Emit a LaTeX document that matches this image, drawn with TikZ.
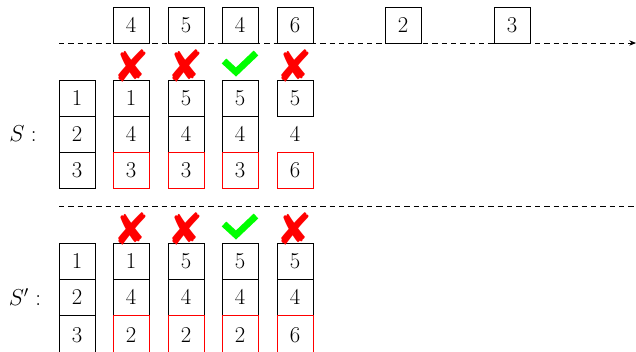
\documentclass[tikz,border=0pt]{standalone}
\usepackage{pifont}
\usetikzlibrary{arrows.meta}
\tikzset{
  cell/.style={draw, line width=0.6pt, minimum width=27pt, minimum height=27pt, inner sep=0pt, font=\fontsize{17}{20}\selectfont},
  redcell/.style={cell, draw=red},
  plain/.style={inner sep=0pt, minimum width=27pt, minimum height=27pt, font=\fontsize{17}{20}\selectfont},
  sep/.style={dash pattern=on 4pt off 3pt, line width=0.6pt},
  nocross/.style={text=red, font=\fontsize{34}{34}\selectfont, inner sep=0pt},
  yescheck/.style={draw=green, line width=5pt, line join=miter},
  lbl/.style={font=\fontsize{17}{20}\selectfont, inner sep=0pt}
}
\begin{document}
\begin{tikzpicture}[x=0.75pt,y=-0.75pt]
\useasboundingbox (0,0) rectangle (636,351);
% top sequence
\node[cell] (t1) at (131,25) {4};
\node[cell] (t2) at (186,25) {5};
\node[cell] (t3) at (240,25) {4};
\node[cell] (t4) at (295,25) {6};
\node[cell] (t5) at (403,25) {2};
\node[cell] (t6) at (512,25) {3};
\coordinate (a0) at (59,43);
\coordinate (a1) at (636,43);
\draw[sep, -{Stealth[length=5pt,width=4pt]}] (a0) -- (a1);
% S
\node[lbl] (S) at (23,134) {$S:$};
\node[cell] (s01) at (77,98) {1};
\node[cell] (s02) at (77,134) {2};
\node[cell] (s03) at (77,170) {3};
\node[cell] (s11) at (131,98) {1};
\node[cell] (s12) at (131,134) {4};
\node[cell] (s21) at (186,98) {5};
\node[cell] (s22) at (186,134) {4};
\node[cell] (s31) at (240,98) {5};
\node[cell] (s32) at (240,134) {4};
\node[cell] (s41) at (295,98) {5};
\node[plain] (s42) at (295,134) {4};
\node[redcell] (s13) at (131,170) {3};
\node[redcell] (s23) at (186,170) {3};
\node[redcell] (s33) at (240,170) {3};
\node[redcell] (s43) at (295,170) {6};
\node[nocross] (x1) at (132,66) {\ding{56}};
\node[nocross] (x2) at (186,66) {\ding{56}};
\node[nocross] (x4) at (295,66) {\ding{56}};
\coordinate (c1) at (224,61);
\coordinate (c2) at (236,72);
\coordinate (c3) at (256,53);
\draw[yescheck] (c1) -- (c2) -- (c3);
% separator
\coordinate (b0) at (59,206);
\coordinate (b1) at (636,206);
\draw[sep] (b0) -- (b1);
% S'
\node[lbl] (Sp) at (25,297) {$S':$};
\node[cell] (p01) at (77,261) {1};
\node[cell] (p02) at (77,297) {2};
\node[cell, minimum height=30pt] (p03) at (77,335) {3};
\node[cell] (p11) at (131,261) {1};
\node[cell] (p12) at (131,297) {4};
\node[cell] (p21) at (186,261) {5};
\node[cell] (p22) at (186,297) {4};
\node[cell] (p31) at (240,261) {5};
\node[cell] (p32) at (240,297) {4};
\node[cell] (p41) at (295,261) {5};
\node[cell] (p42) at (295,297) {4};
\node[redcell, minimum height=30pt] (p13) at (131,335) {2};
\node[redcell, minimum height=30pt] (p23) at (186,335) {2};
\node[redcell, minimum height=30pt] (p33) at (240,335) {2};
\node[redcell, minimum height=30pt] (p43) at (295,335) {6};
\node[nocross] (y1) at (132,229) {\ding{56}};
\node[nocross] (y2) at (186,229) {\ding{56}};
\node[nocross] (y4) at (295,229) {\ding{56}};
\coordinate (d1) at (224,224);
\coordinate (d2) at (236,235);
\coordinate (d3) at (256,216);
\draw[yescheck] (d1) -- (d2) -- (d3);
\end{tikzpicture}
\end{document}
